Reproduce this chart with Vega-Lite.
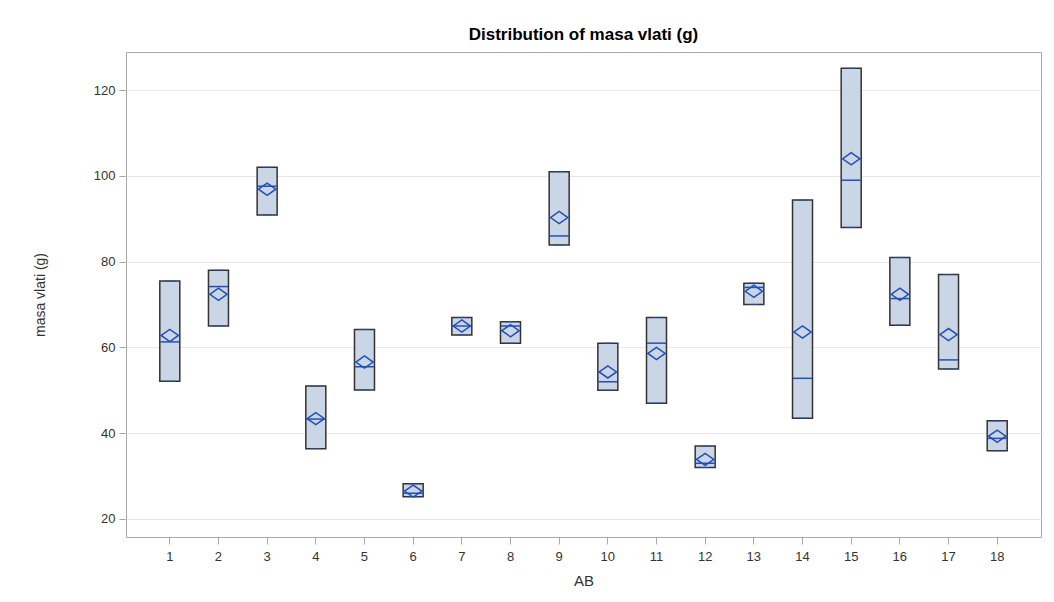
{
  "$schema": "https://vega.github.io/schema/vega-lite/v6.json",
  "width": 915,
  "height": 485,
  "autosize": {"type": "none"},
  "padding": {"left": 126, "top": 52, "right": 13, "bottom": 65},
  "background": "white",
  "config": {
    "font": "Liberation Sans",
    "view": {"stroke": "#a8a8a8", "strokeWidth": 1},
    "axis": {
      "labelFont": "Liberation Sans",
      "titleFont": "Liberation Sans",
      "labelColor": "#333333",
      "titleColor": "#333333",
      "labelFontSize": 13,
      "titleFontSize": 15,
      "titleFontWeight": "normal",
      "domain": false,
      "tickColor": "#a8a8a8",
      "tickSize": 7,
      "gridColor": "#e8e8e8"
    }
  },
  "title": {
    "text": "Distribution of masa vlati (g)",
    "fontSize": 17,
    "fontWeight": "bold",
    "font": "Liberation Sans",
    "color": "#000000",
    "anchor": "middle",
    "offset": 8
  },
  "data": {
    "values": [
      {"AB": 1, "min": 52.1, "max": 75.5, "median": 61.3, "mean": 62.8},
      {"AB": 2, "min": 65.0, "max": 78.0, "median": 74.2, "mean": 72.4},
      {"AB": 3, "min": 90.9, "max": 102.0, "median": 97.6, "mean": 96.9},
      {"AB": 4, "min": 36.4, "max": 51.0, "median": 43.3, "mean": 43.4},
      {"AB": 5, "min": 50.1, "max": 64.2, "median": 55.5, "mean": 56.6},
      {"AB": 6, "min": 25.2, "max": 28.2, "median": 26.0, "mean": 26.5},
      {"AB": 7, "min": 62.9, "max": 67.0, "median": 65.0, "mean": 65.0},
      {"AB": 8, "min": 61.0, "max": 66.0, "median": 65.0, "mean": 63.9},
      {"AB": 9, "min": 83.9, "max": 101.0, "median": 86.0, "mean": 90.3},
      {"AB": 10, "min": 50.0, "max": 61.0, "median": 52.0, "mean": 54.3},
      {"AB": 11, "min": 47.0, "max": 67.0, "median": 61.0, "mean": 58.6},
      {"AB": 12, "min": 32.0, "max": 37.0, "median": 33.0, "mean": 33.9},
      {"AB": 13, "min": 70.0, "max": 75.0, "median": 74.0, "mean": 73.1},
      {"AB": 14, "min": 43.5, "max": 94.4, "median": 52.8, "mean": 63.6},
      {"AB": 15, "min": 88.0, "max": 125.1, "median": 99.0, "mean": 104.0},
      {"AB": 16, "min": 65.2, "max": 81.0, "median": 71.4, "mean": 72.4},
      {"AB": 17, "min": 55.0, "max": 77.0, "median": 57.1, "mean": 63.0},
      {"AB": 18, "min": 35.9, "max": 42.9, "median": 38.8, "mean": 39.3}
    ]
  },
  "encoding": {
    "x": {
      "field": "AB",
      "type": "ordinal",
      "title": "AB",
      "scale": {"paddingInner": 0, "paddingOuter": 0.4},
      "axis": {"labelAngle": 0, "labelPadding": 6, "titlePadding": 10}
    }
  },
  "layer": [
    {
      "mark": {"type": "bar", "width": 20, "fill": "#cad5e5", "stroke": "#333333", "strokeWidth": 1.5},
      "encoding": {
        "y": {
          "field": "min",
          "type": "quantitative",
          "title": "masa vlati (g)",
          "scale": {"domain": [15.8, 128.9], "nice": false, "zero": false},
          "axis": {"values": [20, 40, 60, 80, 100, 120], "grid": true, "labelPadding": 4, "titlePadding": 46, "titleFontSize": 14}
        },
        "y2": {"field": "max"}
      }
    },
    {
      "mark": {"type": "tick", "color": "#2050b8", "size": 10, "thickness": 1},
      "encoding": {"y": {"field": "min", "type": "quantitative"}}
    },
    {
      "mark": {"type": "tick", "color": "#2050b8", "size": 10, "thickness": 1},
      "encoding": {"y": {"field": "max", "type": "quantitative"}}
    },
    {
      "mark": {"type": "tick", "color": "#2050b8", "size": 19, "thickness": 1.5, "opacity": 1},
      "encoding": {"y": {"field": "median", "type": "quantitative"}}
    },
    {
      "mark": {"type": "point", "shape": "M-1,0L0,-0.7L1,0L0,0.7Z", "size": 300, "filled": false, "stroke": "#2050b8", "strokeWidth": 1.5, "opacity": 1},
      "encoding": {"y": {"field": "mean", "type": "quantitative"}}
    }
  ]
}
